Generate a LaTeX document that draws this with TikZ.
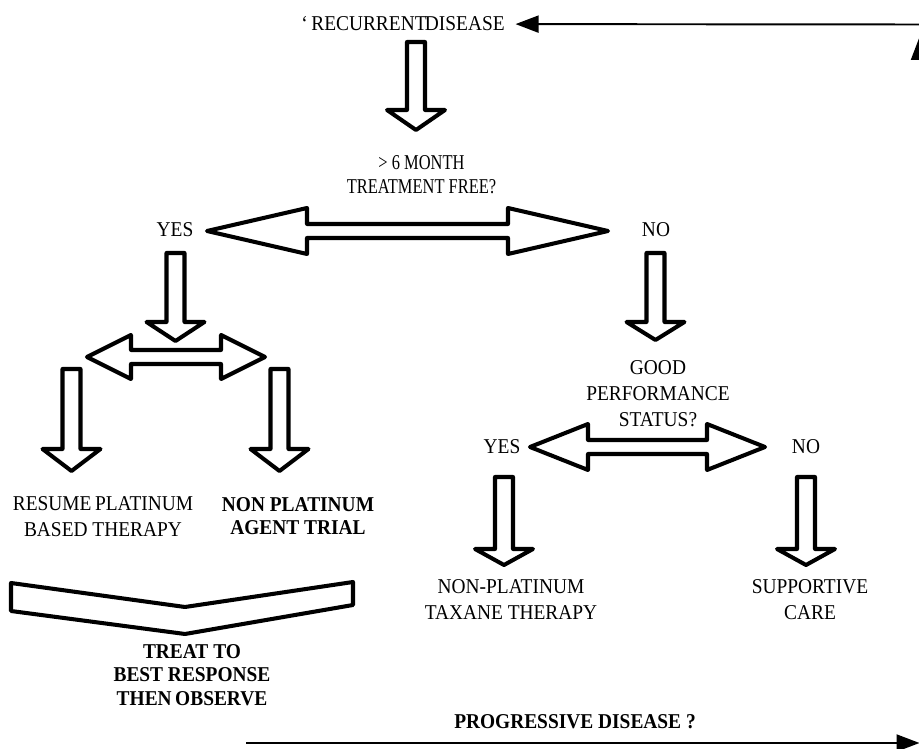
\documentclass[tikz,border=0pt]{standalone}
\usepackage{fontspec}
\setmainfont{Liberation Serif}[FakeStretch=0.92]
\newfontfamily\narrowserif{Liberation Serif}[FakeStretch=0.78]
\usepackage{tikz}
\usetikzlibrary{arrows.meta}
% hollow block arrows
\newcommand{\fatdown}[4]{% x, top, shoulder, tip
  \draw[blockarr] (#1-0.18,#2) -- (#1+0.18,#2) -- (#1+0.18,#3) -- (#1+0.58,#3)
    -- (#1,#4) -- (#1-0.58,#3) -- (#1-0.18,#3) -- cycle;}
\newcommand{\fatboth}[5]{% left tip, right tip, y, head length, head half width
  \draw[blockarr] (#1,#3) -- (#1+#4,#3+#5) -- (#1+#4,#3+0.14) -- (#2-#4,#3+0.14)
    -- (#2-#4,#3+#5) -- (#2,#3) -- (#2-#4,#3-#5) -- (#2-#4,#3-0.14)
    -- (#1+#4,#3-0.14) -- (#1+#4,#3-#5) -- cycle;}

\begin{document}
\begin{tikzpicture}[
  x=1cm, y=1cm,
  lbl/.style={font=\fontsize{12}{14.8}\selectfont, align=center, inner sep=1pt},
  bold/.style={font=\fontsize{12}{13.2}\selectfont\bfseries},
  blockarr/.style={line width=2.3pt, line join=round, fill=white},
  conn/.style={-{Triangle[length=4.6mm, width=3.4mm]}, line width=1.1pt}
]
\useasboundingbox (0,0) rectangle (18.38,14.98);

% Start of the pathway
\node[lbl] (recur) at (8.06,14.50) {`\,RECURRENT\kern-1pt DISEASE};
\fatdown{8.32}{14.14}{12.78}{12.38}
\node[lbl, font=\fontsize{12}{13.6}\narrowserif] (freeint) at (8.43,11.48) {> 6 MONTH\\TREATMENT FREE?};

% First split
\fatboth{4.14}{12.16}{10.36}{2.0}{0.46}
\node[lbl] (yesA) at (3.50,10.38) {YES};
\node[lbl] (noA) at (13.12,10.38) {NO};

% Platinum sensitive branch
\fatdown{3.51}{9.92}{8.54}{8.16}
\fatboth{1.74}{5.30}{7.84}{0.88}{0.44}
\fatdown{1.43}{7.60}{6.00}{5.56}
\fatdown{5.59}{7.60}{6.00}{5.56}
\node[lbl] (resume) at (2.06,4.65) {RESUME\,PLATINUM\\BASED THERAPY};
\node[lbl, bold] (trial) at (5.96,4.65) {NON PLATINUM\\AGENT TRIAL};

% Chevron collecting both
\draw[blockarr] (0.22,3.32) -- (3.70,2.84) -- (7.06,3.34) -- (7.06,2.88)
  -- (3.70,2.30) -- (0.22,2.76) -- cycle;
\node[lbl, bold] (observe) at (3.84,1.48) {TREAT TO\\BEST RESPONSE\\THEN\,OBSERVE};

% Platinum resistant branch
\fatdown{13.11}{9.92}{8.54}{8.18}
\node[lbl] (perf) at (13.16,7.10) {GOOD\\PERFORMANCE\\STATUS?};
\fatboth{10.60}{15.30}{6.04}{1.16}{0.46}
\node[lbl] (yesB) at (10.04,6.04) {YES};
\node[lbl] (noB) at (16.12,6.04) {NO};
\fatdown{10.08}{5.44}{4.00}{3.68}
\fatdown{16.12}{5.44}{4.00}{3.68}
\node[lbl] (taxane) at (10.22,2.98) {NON-PLATINUM\\TAXANE THERAPY};
\node[lbl] (support) at (16.20,2.98) {SUPPORTIVE\\CARE};

% Loop back on progression
\node[lbl, bold] (progress) at (11.50,0.54) {PROGRESSIVE DISEASE ?};
\coordinate (pdtail) at (4.92,0.12);
\coordinate (loopbr) at (18.39,0.12);
\coordinate (looptr) at (18.39,14.24);
\coordinate (toptail) at (18.40,14.49);
\draw[conn] (pdtail) -- (loopbr);
\draw[conn] (loopbr) -- (looptr);
\draw[conn, shorten >=5pt] (toptail) -- (recur);

\end{tikzpicture}
\end{document}
